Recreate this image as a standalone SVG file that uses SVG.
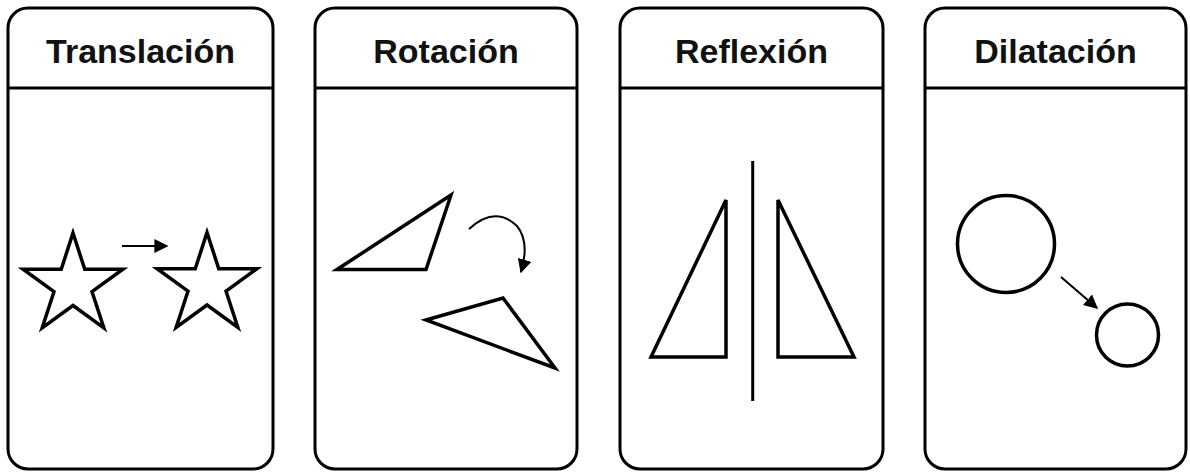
<svg xmlns="http://www.w3.org/2000/svg" width="1190" height="472" viewBox="0 0 1190 472">
<style>
.panel{fill:#fff;stroke:#000;stroke-width:3}
.div{stroke:#000;stroke-width:3}
.title{font-family:"Liberation Sans",Arial,sans-serif;font-weight:bold;font-size:34px;fill:#111;text-anchor:middle}
.shape{fill:none;stroke:#000;stroke-width:3.5;stroke-linejoin:miter}
.arrow{fill:none;stroke:#000;stroke-width:2}
</style>
<defs>
<marker id="ah" viewBox="0 0 10 10" refX="9" refY="5" markerWidth="7" markerHeight="7" orient="auto" markerUnits="strokeWidth">
<path d="M0,0 L10,5 L0,10 Z" fill="#000"/>
</marker>
<path id="star" d="M0,-52.5 L11.76,-16.18 L49.93,-16.22 L19.02,6.18 L30.86,42.47 L0,20 L-30.86,42.47 L-19.02,6.18 L-49.93,-16.22 L-11.76,-16.18 Z"/>
</defs>
<rect width="1190" height="472" fill="#fff"/>
<g id="panel-translacion">
<rect class="panel" x="8" y="8" width="265" height="461" rx="20"/>
<line class="div" x1="8" y1="88" x2="273" y2="88"/>
<text class="title" x="140.5" y="63">Translación</text>
<use href="#star" class="shape" x="73" y="285.5"/>
<use href="#star" class="shape" x="207" y="285"/>
</g>
<g id="panel-rotacion">
<rect class="panel" x="315" y="8" width="262" height="461" rx="20"/>
<line class="div" x1="315" y1="88" x2="577" y2="88"/>
<text class="title" x="446" y="63">Rotación</text>
<polygon class="shape" points="337,269.5 451,195 426,269.5"/>
<polygon class="shape" points="426,320 503,298 555,368"/>
</g>
<g id="panel-reflexion">
<rect class="panel" x="620" y="8" width="263" height="461" rx="20"/>
<line class="div" x1="620" y1="88" x2="883" y2="88"/>
<text class="title" x="751.5" y="63">Reflexión</text>
<polygon class="shape" points="726,200 651,357 726,357"/>
<polygon class="shape" points="778,200 778,357 854,357"/>
<line x1="752.7" y1="161" x2="752.7" y2="401" stroke="#000" stroke-width="3"/>
</g>
<g id="panel-dilatacion">
<rect class="panel" x="925" y="8" width="261" height="461" rx="20"/>
<line class="div" x1="925" y1="88" x2="1186" y2="88"/>
<text class="title" x="1055.5" y="63">Dilatación</text>
<circle class="shape" cx="1006" cy="244" r="48.5"/>
<circle class="shape" cx="1127.5" cy="335" r="31"/>
</g>
<g id="connectors">
<line class="arrow" x1="122" y1="246" x2="167" y2="246" marker-end="url(#ah)"/>
<path class="arrow" d="M469,229 Q495,205 517,226 Q530,242 521,272" marker-end="url(#ah)"/>
<line class="arrow" x1="1061" y1="277" x2="1097" y2="308" marker-end="url(#ah)"/>
</g>
</svg>
